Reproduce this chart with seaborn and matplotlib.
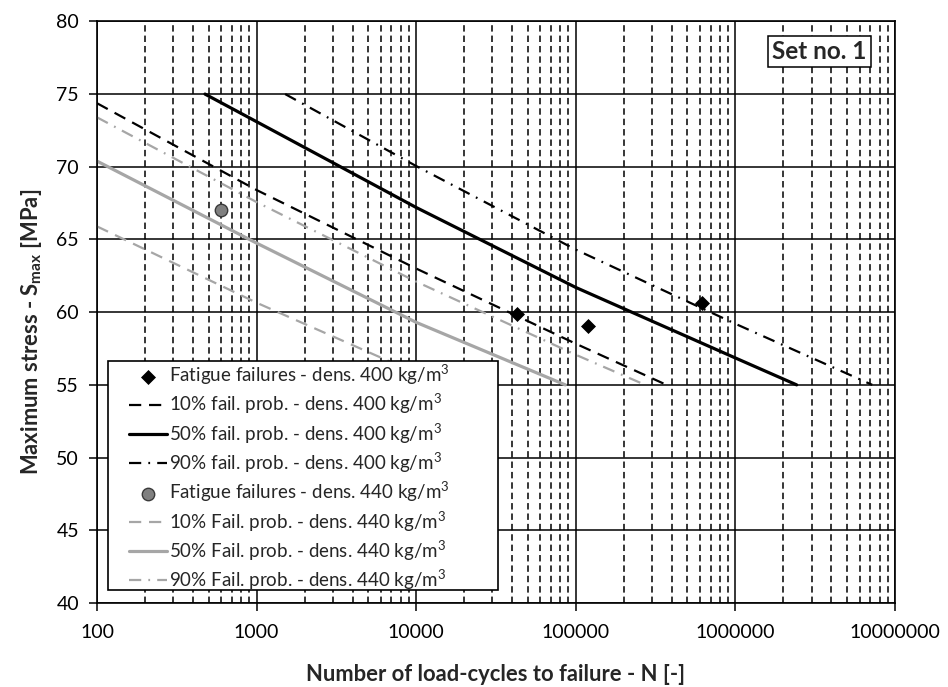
import matplotlib
matplotlib.use("Agg")
import matplotlib.pyplot as plt
import matplotlib.ticker as mticker
from matplotlib.patches import Rectangle
import numpy as np
import pandas as pd
import seaborn as sns

# ---- data ----
fat400_N = [42700, 120000, 621000]
fat400_S = [59.9, 59.02, 60.63]
p10_400_N = [100, 1000, 10000, 100000, 370000]
p10_400_S = [74.37, 68.4, 63.0, 57.83, 55.0]
p50_400_N = [475, 1000, 10000, 100000, 1000000, 2420000]
p50_400_S = [75.0, 73.1, 67.2, 61.7, 56.85, 55.0]
p90_400_N = [1510, 10000, 100000, 1000000, 7200000]
p90_400_S = [75.0, 70.05, 64.3, 59.2, 55.0]

fat440_N = [600]
fat440_S = [67.0]
p10_440_N = [100, 1000, 5770, 14800]
p10_440_S = [65.9, 60.65, 56.96, 55.0]
p50_440_N = [100, 1000, 10000, 86000]
p50_440_S = [70.39, 64.75, 59.3, 55.0]
p90_440_N = [100, 1000, 10000, 100000, 272000]
p90_440_S = [73.4, 67.57, 62.1, 57.07, 55.0]

x_ticks = [100, 1000, 10000, 100000, 1000000, 10000000]
y_ticks = [40, 45, 50, 55, 60, 65, 70, 75, 80]

labels = [
    "Fatigue failures - dens. 400 kg/m$^3$",
    "10% fail. prob. - dens. 400 kg/m$^3$",
    "50% fail. prob. - dens. 400 kg/m$^3$",
    "90% fail. prob. - dens. 400 kg/m$^3$",
    "Fatigue failures - dens. 440 kg/m$^3$",
    "10% Fail. prob. - dens. 440 kg/m$^3$",
    "50% Fail. prob. - dens. 440 kg/m$^3$",
    "90% Fail. prob. - dens. 440 kg/m$^3$",
]

sns.set_style("ticks")
plt.rcParams["font.family"] = ["Lato", "DejaVu Sans"]
plt.rcParams["mathtext.fontset"] = "custom"
plt.rcParams["mathtext.rm"] = "Lato"
plt.rcParams["mathtext.it"] = "Lato"
plt.rcParams["mathtext.bf"] = "Lato:bold"

fig = plt.figure(figsize=(9.48, 6.87), dpi=100)
ax = fig.add_axes([0.1023, 0.1223, 0.8418, 0.8466])

GRAY = "#a6a6a6"
dash = (0, (5.5, 3.5))
dashdot = (0, (5.5, 3.2, 0.8, 3.2))

def line(N, S, color, lw, ls, label):
    sns.lineplot(x=N, y=S, ax=ax, color=color, lw=lw, linestyle=ls,
                 label=label, errorbar=None, legend=False)

sns.scatterplot(x=fat400_N, y=fat400_S, ax=ax, marker="D", s=50, color="black",
                edgecolor="black", zorder=5, label=labels[0], legend=False)
line(p10_400_N, p10_400_S, "black", 1.6, dash, labels[1])
line(p50_400_N, p50_400_S, "black", 2.3, "-", labels[2])
line(p90_400_N, p90_400_S, "black", 1.6, dashdot, labels[3])
sns.scatterplot(x=fat440_N, y=fat440_S, ax=ax, marker="o", s=80, color="#808080",
                edgecolor="#3a3a3a", linewidth=1.0, zorder=5, label=labels[4], legend=False)
line(p10_440_N, p10_440_S, GRAY, 1.6, dash, labels[5])
line(p50_440_N, p50_440_S, GRAY, 2.3, "-", labels[6])
line(p90_440_N, p90_440_S, GRAY, 1.6, dashdot, labels[7])

ax.set_xscale("log")
ax.set_xlim(100, 1e7)
ax.set_ylim(40, 80)
ax.xaxis.set_major_locator(mticker.FixedLocator(x_ticks))
ax.xaxis.set_major_formatter(mticker.FuncFormatter(lambda v, p: f"{int(round(v))}"))
ax.xaxis.set_minor_locator(mticker.LogLocator(base=10, subs=np.arange(2, 10), numticks=20))
ax.xaxis.set_minor_formatter(mticker.NullFormatter())
ax.yaxis.set_major_locator(mticker.FixedLocator(y_ticks))

ax.set_axisbelow(True)
ax.grid(which="major", axis="both", color="black", lw=1.1, ls="-")
ax.grid(which="minor", axis="x", color="black", lw=1.1, ls=(0, (4.2, 2.6)))
for sp in ax.spines.values():
    sp.set_color("black")
    sp.set_linewidth(1.2)

ax.tick_params(axis="both", which="major", direction="out", length=6, width=1.1,
               labelsize=14, colors="black")
ax.tick_params(axis="x", which="major", pad=9)
ax.tick_params(axis="y", which="major", pad=7)
ax.tick_params(axis="x", which="minor", length=0)

ax.set_xlabel("Number of load-cycles to failure - N [-]", fontsize=15.8,
              fontweight="bold")
ax.set_ylabel(r"Maximum stress - S$_\mathbf{max}$ [MPa]", fontsize=15.8,
              fontweight="bold")
ax.xaxis.label.set_va("center")
ax.yaxis.label.set_va("center")
ax.xaxis.set_label_coords(0.5, -0.1237)
ax.yaxis.set_label_coords(-0.0815, 0.4656)

# legend box (frame) matching reference extents
frame = Rectangle((0.0138, 0.0223), 0.4887, 0.3935, transform=ax.transAxes,
                  facecolor="white", edgecolor="black", lw=1.2, zorder=9)
ax.add_patch(frame)

handles, labs = ax.get_legend_handles_labels()
order = [labs.index(l) for l in labels]
leg = ax.legend([handles[i] for i in order], [labs[i] for i in order],
                loc="upper left", bbox_to_anchor=(0.038, 0.4158), borderaxespad=0,
                frameon=False, fontsize=13.5, handlelength=2.0, handletextpad=0.15,
                labelspacing=0.27, borderpad=0.1)
leg.set_zorder(10)

ax.text(0.905, 0.948, "Set no. 1", transform=ax.transAxes, ha="center", va="center",
        fontsize=17.5, fontweight="bold", zorder=11,
        bbox=dict(boxstyle="square,pad=0.17", facecolor="white", edgecolor="black", lw=1.1))

fig.savefig("out.png", dpi=100)
